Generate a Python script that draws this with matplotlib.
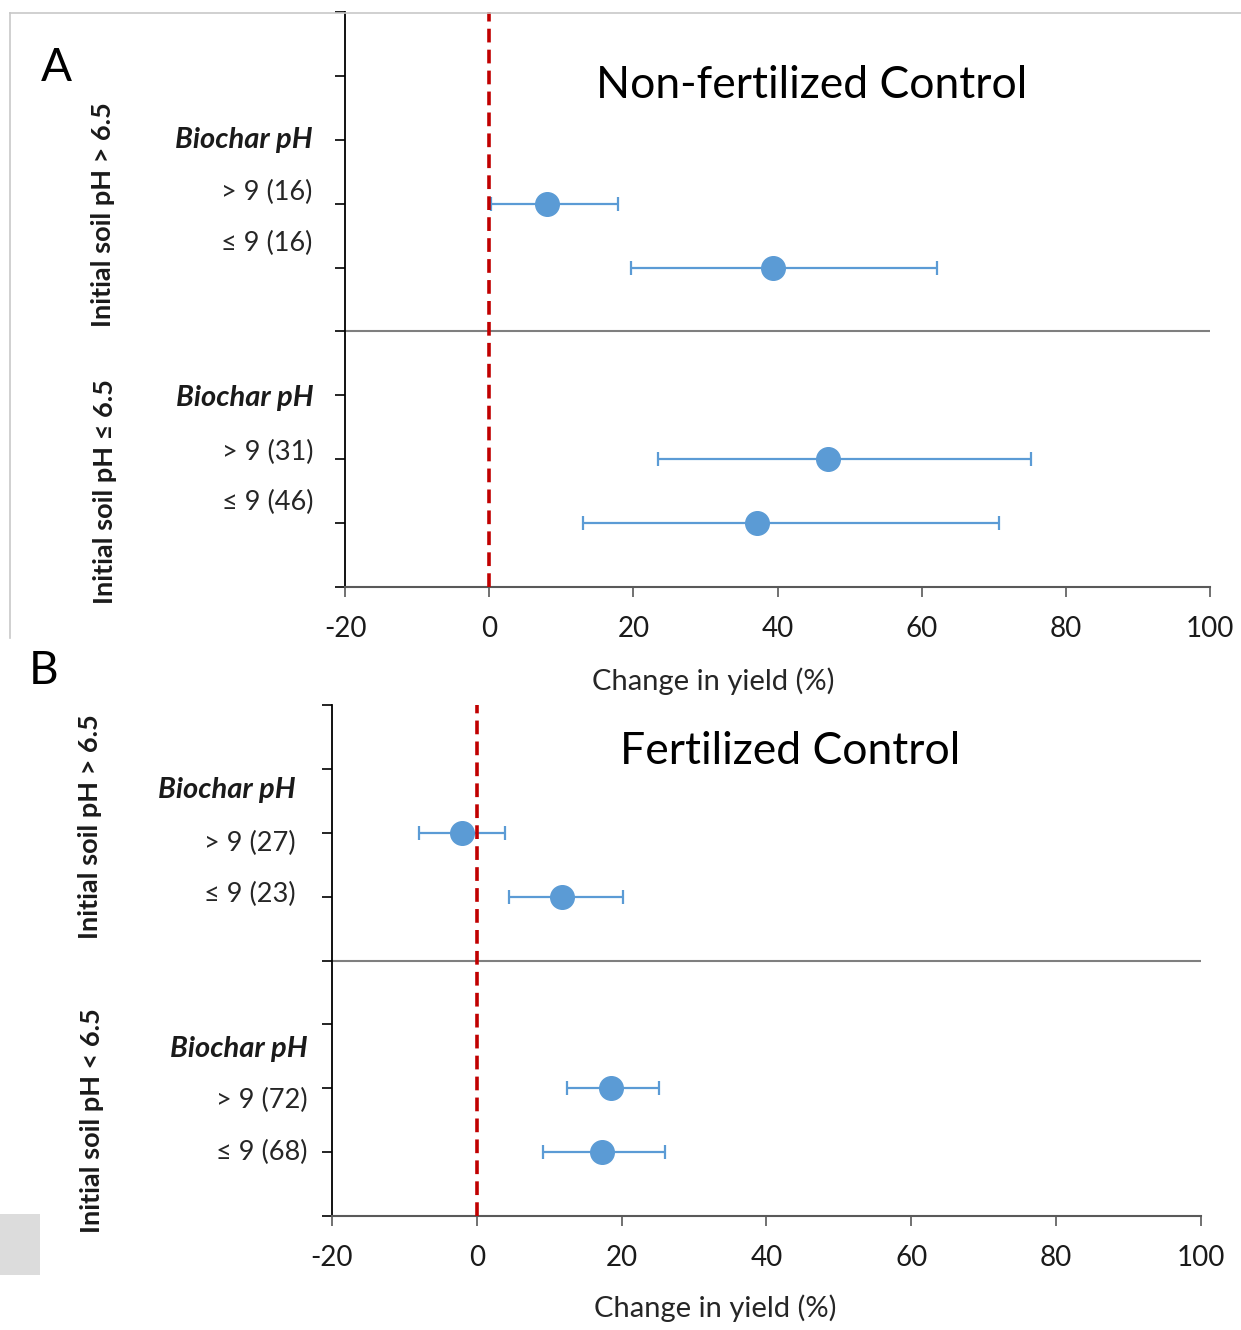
import matplotlib
matplotlib.use("Agg")
import matplotlib.pyplot as plt
from matplotlib.lines import Line2D
from matplotlib.patches import Rectangle

plt.rcParams['font.family'] = ['Lato', 'DejaVu Sans']

# Panel A: non-fertilized control
a_rows = [6, 5, 2, 1]
a_mean = [8.0, 39.4, 47.0, 37.2]
a_low = [0.3, 19.7, 23.4, 13.0]
a_high = [17.9, 62.1, 75.2, 70.7]
a_labels = ['> 9 (16)', '≤ 9 (16)', '> 9 (31)', '≤ 9 (46)']
a_groups = ['Initial soil pH > 6.5', 'Initial soil pH ≤ 6.5']

# Panel B: fertilized control
b_rows = [6, 5, 2, 1]
b_mean = [-2.1, 11.7, 18.5, 17.3]
b_low = [-8.0, 4.4, 12.4, 9.1]
b_high = [3.9, 20.2, 25.1, 26.0]
b_labels = ['> 9 (27)', '≤ 9 (23)', '> 9 (72)', '≤ 9 (68)']
b_groups = ['Initial soil pH > 6.5', 'Initial soil pH < 6.5']

xticks = [-20, 0, 20, 40, 60, 80, 100]
blue = '#5B9BD5'
red = '#C00000'

W, H = 1241, 1330
fig = plt.figure(figsize=(W / 100, H / 100), dpi=100)


def fx(px):
    return px / W


def fy(py):
    return 1 - py / H


def panel(rect, rows, mean, low, high, labels, groups, ytop, title, title_xy,
          lab_off, lab_y, head_y, grp_x, grp_y, xlabel_xy):
    l, t, r, b = rect
    ax = fig.add_axes([fx(l), fy(b), fx(r) - fx(l), fy(t) - fy(b)])
    ax.set_xlim(-20, 100)
    ax.set_ylim(0, ytop)
    ax.set_xticks(xticks)
    ax.set_xticklabels([str(v) for v in xticks])
    ax.set_yticks(range(0, ytop + 1))
    ax.set_yticklabels([])
    for s in ['top', 'right']:
        ax.spines[s].set_visible(False)
    ax.spines['left'].set_color('black')
    ax.spines['left'].set_linewidth(1.3)
    ax.spines['bottom'].set_color('#595959')
    ax.spines['bottom'].set_linewidth(1.5)
    ax.tick_params(axis='y', direction='out', length=7, width=1.2, color='black')
    ax.tick_params(axis='x', direction='out', length=7, width=1.2, color='#595959',
                   labelsize=20, pad=14, labelcolor='#1a1a1a')

    # group separator
    ax.axhline(4, color='#7f7f7f', lw=1.5)

    xerr = [[m - lo for m, lo in zip(mean, low)], [hi - m for m, hi in zip(mean, high)]]
    ax.errorbar(mean, rows, xerr=xerr, fmt='o', color=blue, ecolor=blue,
                markersize=17, elinewidth=1.6, capsize=5, capthick=1.6, zorder=3)
    ax.axvline(0, color=red, lw=2.6, dashes=(3.8, 2.0), zorder=4)

    # category labels
    tr = ax.get_yaxis_transform()
    for i, (yy, lab) in enumerate(zip(lab_y, labels)):
        ax.text(lab_off[i // 2], yy, lab, transform=tr, ha='right', va='center',
                fontsize=19.5, color='#262626')
    for k, yy in enumerate(head_y):
        ax.text(lab_off[k], yy, 'Biochar pH', transform=tr, ha='right', va='center',
                fontsize=21, fontweight='bold', fontstyle='italic', color='#1a1a1a')

    for gname, gx, gy in zip(groups, grp_x, grp_y):
        fig.text(fx(gx), fy(gy), gname, rotation=90, ha='center', va='center',
                 fontsize=19.5, fontweight='bold', color='#1a1a1a')

    fig.text(fx(title_xy[0]), fy(title_xy[1]), title, ha='center', va='center',
             fontsize=32, color='black')
    fig.text(fx(xlabel_xy[0]), fy(xlabel_xy[1]), 'Change in yield (%)', ha='center',
             va='center', fontsize=21, color='#262626')
    return ax


panel((345, 12, 1210, 587), a_rows, a_mean, a_low, a_high, a_labels, a_groups, 9,
      'Non-fertilized Control', (812, 86), [-0.038, -0.036],
      [6.18, 5.37, 2.11, 1.32], [7.0, 2.96], [103, 105], [215, 492], (713, 681))
panel((332, 705, 1201, 1216), b_rows, b_mean, b_low, b_high, b_labels, b_groups, 8,
      'Fertilized Control', (790, 752), [-0.042, -0.028],
      [5.84, 5.04, 1.81, 0.99], [6.67, 2.62], [90, 92], [827, 1121], (715, 1308))

# panel letters
fig.text(fx(56), fy(68), 'A', ha='center', va='center', fontsize=33, color='black')
fig.text(fx(44), fy(671), 'B', ha='center', va='center', fontsize=33, color='black')

# light frame around panel A
fig.add_artist(Line2D([fx(10), 1], [fy(13), fy(13)], color='#c8c8c8', lw=1.2))
fig.add_artist(Line2D([fx(10), fx(10)], [fy(13), fy(638)], color='#c8c8c8', lw=1.2))

# grey remnant at lower left
fig.add_artist(Rectangle((0, fy(1275)), fx(40), fy(1214) - fy(1275),
                         transform=fig.transFigure, color='#dcdcdc', lw=0))

fig.savefig('out.png', dpi=100, facecolor='white')
